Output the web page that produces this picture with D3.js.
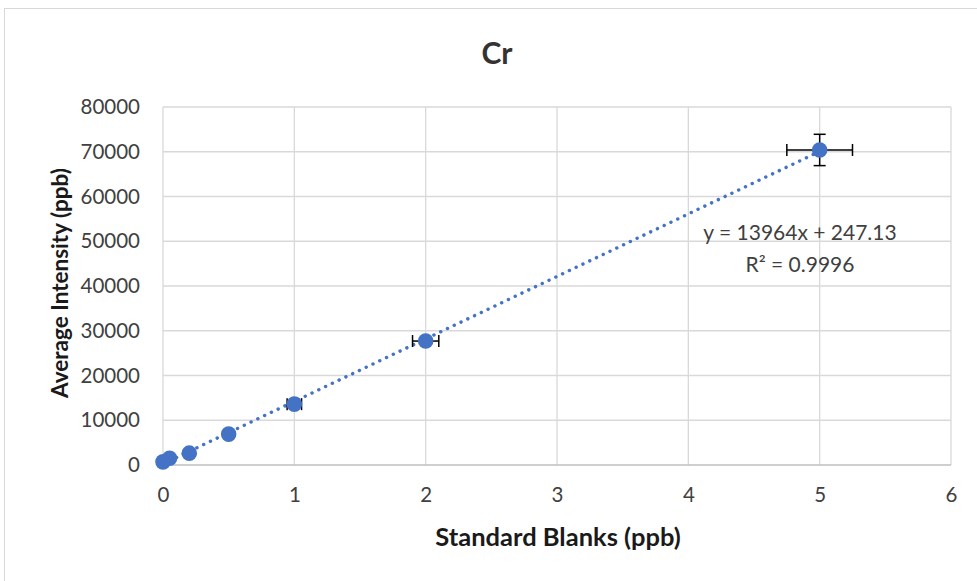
<!DOCTYPE html>
<html><head><meta charset="utf-8">
<script src="https://cdn.jsdelivr.net/npm/d3@7"></script>
<style>body{margin:0;background:#fff;}svg{display:block;}</style>
</head><body>
<svg id="c" width="977" height="581"></svg>
<script>
const xValues = [0, 0.05, 0.2, 0.5, 1, 2, 5];
const yValues = [700, 1500, 2650, 6900, 13600, 27700, 70400];
const xErrors = [0, 0, 0, 0, 0.055, 0.1, 0.25];
const yErrors = [0, 0, 0, 0, 300, 700, 3500];
const xTicks = [0, 1, 2, 3, 4, 5, 6];
const yTicks = [0, 10000, 20000, 30000, 40000, 50000, 60000, 70000, 80000];
const slope = 13964, intercept = 247.13;
const eqLabel = "y = 13964x + 247.13";
const r2Label = "R² = 0.9996";
const title = "Cr";
const xTitle = "Standard Blanks (ppb)";
const yTitle = "Average Intensity (ppb)";

const font = "Lato, 'Open Sans', sans-serif";
const svg = d3.select("#c");
svg.append("rect").attr("x",4.5).attr("y",8.5).attr("width",990).attr("height",600)
  .attr("fill","#fff").attr("stroke","#d9d9d9");

const L=163, R=951, T=107, B=465;
const x = d3.scaleLinear().domain([0,6]).range([L,R]);
const y = d3.scaleLinear().domain([0,80000]).range([B,T]);

const g = svg.append("g");
g.selectAll(".hg").data(yTicks.filter(d=>d>0)).join("line")
  .attr("x1",L).attr("x2",R).attr("y1",d=>y(d)).attr("y2",d=>y(d))
  .attr("stroke","#d9d9d9").attr("stroke-width",1.3);
g.selectAll(".vg").data(xTicks).join("line")
  .attr("y1",T).attr("y2",B).attr("x1",d=>x(d)).attr("x2",d=>x(d))
  .attr("stroke","#d9d9d9").attr("stroke-width",1.3);
g.append("line").attr("x1",L).attr("x2",R).attr("y1",B).attr("y2",B)
  .attr("stroke","#bfbfbf").attr("stroke-width",1.3);

const xAxis = svg.append("g").attr("transform",`translate(0,${B})`)
  .call(d3.axisBottom(x).tickValues(xTicks).tickSize(0).tickPadding(22).tickFormat(d3.format("d")));
const yAxis = svg.append("g").attr("transform",`translate(${L},0)`)
  .call(d3.axisLeft(y).tickValues(yTicks).tickSize(0).tickPadding(23).tickFormat(d3.format("d")));
[xAxis,yAxis].forEach(a=>{
  a.select(".domain").remove();
  a.selectAll("text").attr("font-family",font).attr("font-size",20.5).attr("fill","#404040");
});

svg.append("line").attr("x1",x(0)).attr("y1",y(intercept)).attr("x2",x(5)).attr("y2",y(slope*5+intercept))
  .attr("stroke","#4472C4").attr("stroke-width",3.4).attr("stroke-linecap","round")
  .attr("stroke-dasharray","0.1 7.4");

const data = xValues.map((v,i)=>({x:v,y:yValues[i],ex:xErrors[i],ey:yErrors[i]}));
const eb = svg.append("g").attr("stroke","#000").attr("stroke-width",1.5);
const cap=6;
data.filter(d=>d.ex>0).forEach(d=>{
  eb.append("line").attr("x1",x(d.x-d.ex)).attr("x2",x(d.x+d.ex)).attr("y1",y(d.y)).attr("y2",y(d.y));
  eb.append("line").attr("x1",x(d.x-d.ex)).attr("x2",x(d.x-d.ex)).attr("y1",y(d.y)-cap).attr("y2",y(d.y)+cap);
  eb.append("line").attr("x1",x(d.x+d.ex)).attr("x2",x(d.x+d.ex)).attr("y1",y(d.y)-cap).attr("y2",y(d.y)+cap);
});
data.filter(d=>d.ey>0).forEach(d=>{
  eb.append("line").attr("x1",x(d.x)).attr("x2",x(d.x)).attr("y1",y(d.y-d.ey)).attr("y2",y(d.y+d.ey));
  eb.append("line").attr("x1",x(d.x)-cap).attr("x2",x(d.x)+cap).attr("y1",y(d.y-d.ey)).attr("y2",y(d.y-d.ey));
  eb.append("line").attr("x1",x(d.x)-cap).attr("x2",x(d.x)+cap).attr("y1",y(d.y+d.ey)).attr("y2",y(d.y+d.ey));
});

svg.append("g").selectAll("circle").data(data).join("circle")
  .attr("cx",d=>x(d.x)).attr("cy",d=>y(d.y)).attr("r",7.8).attr("fill","#4472C4");

svg.append("text").attr("x",497).attr("y",64).attr("text-anchor","middle")
  .attr("font-family",font).attr("font-weight","bold").attr("font-size",30).attr("fill","#333").text(title);
svg.append("text").attr("x",558).attr("y",546).attr("text-anchor","middle")
  .attr("font-family",font).attr("font-weight","bold").attr("font-size",25.5).attr("fill","#1a1a1a").text(xTitle);
svg.append("text").attr("transform","translate(68,283) rotate(-90)").attr("text-anchor","middle")
  .attr("font-family",font).attr("font-weight","bold").attr("font-size",22.5).attr("fill","#1a1a1a").text(yTitle);
svg.append("text").attr("x",800).attr("y",240).attr("text-anchor","middle")
  .attr("font-family",font).attr("font-size",21).attr("fill","#404040").text(eqLabel);
svg.append("text").attr("x",800).attr("y",272).attr("text-anchor","middle")
  .attr("font-family",font).attr("font-size",21).attr("fill","#404040").text(r2Label);
</script>
</body></html>
